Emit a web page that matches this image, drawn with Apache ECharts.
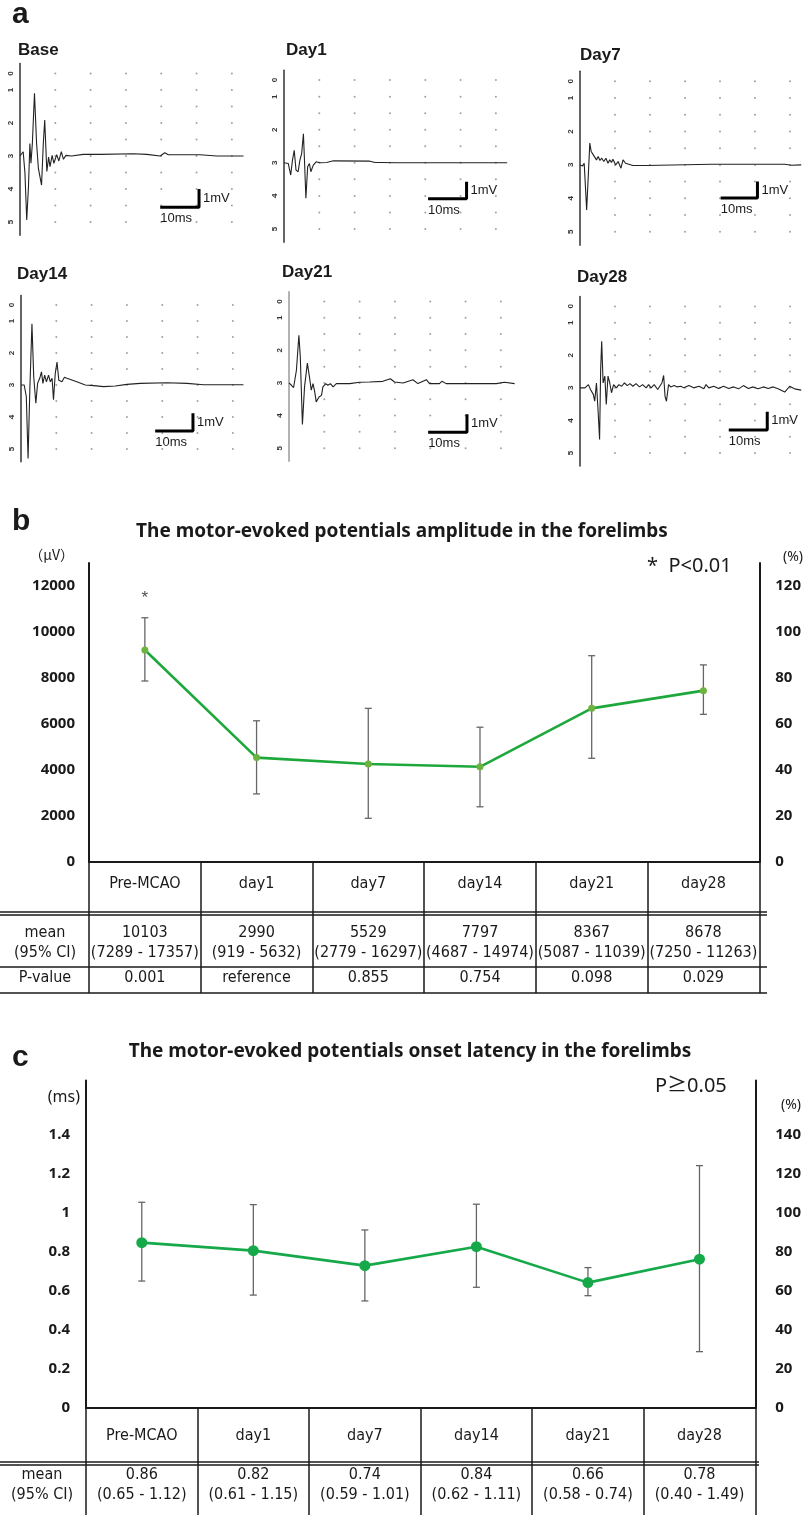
<!DOCTYPE html>
<html>
<head>
<meta charset="utf-8">
<title>Motor-evoked potentials</title>
<script src="https://cdn.jsdelivr.net/npm/echarts@6.0.0/dist/echarts.min.js"></script>
<style>
  html, body { margin: 0; padding: 0; background: #fff; }
  #chart { width: 804px; height: 1515px; }
</style>
</head>
<body>
<div id="chart"></div>
<script>
// ---------- panel a : raw MEP traces (time ms, amplitude in trace-grid units, 3 = baseline)
const baseT = [0, 0.9, 1.4, 1.9, 2.4, 2.8, 3.1, 3.5, 4.1, 4.7, 5.2, 5.7, 6.1, 6.6, 7.0, 7.6, 8.1, 8.5, 9.1, 9.6, 10.4, 11.0, 11.7, 12.3, 13.0, 14.6, 17.9, 22.7, 32.1, 35.9, 39.7, 40.2, 41.0, 42.0, 51.0, 55.7, 63.3];
const baseV = [3.0, 2.87, 3.52, 4.94, 3.93, 2.62, 3.22, 2.62, 1.10, 2.62, 3.37, 3.32, 3.88, 2.62, 1.91, 3.47, 3.03, 3.32, 2.98, 3.22, 2.96, 3.15, 2.87, 3.10, 2.98, 3.0, 2.95, 2.95, 2.93, 2.95, 3.0, 3.05, 2.9, 2.96, 2.96, 3.0, 3.0];

const day1T = [0, 1.2, 1.9, 2.4, 2.9, 3.4, 4.0, 4.5, 5.0, 5.5, 5.8, 6.2, 6.7, 7.2, 7.6, 8.3, 9.1, 10.2, 12.1, 14.0, 24.3, 25.8, 27.2, 32.4, 63.2];
const day1V = [3.0, 3.02, 3.37, 2.92, 2.62, 3.22, 3.27, 2.92, 2.72, 2.12, 2.92, 4.07, 3.12, 3.02, 3.27, 3.07, 2.97, 3.0, 2.99, 2.94, 2.95, 2.99, 2.99, 3.0, 3.0];

const day7T = [0, 0.75, 1.2, 1.9, 2.4, 2.8, 3.2, 3.8, 4.2, 4.7, 5.2, 5.7, 6.2, 6.8, 7.4, 8.0, 8.5, 9.0, 9.4, 10.2, 10.9, 11.7, 12.3, 13.0, 13.4, 15.1, 18.9, 37.7, 38.2, 58.5, 60.4, 63.2];
const day7V = [3.0, 3.03, 2.95, 4.35, 3.25, 2.35, 2.6, 2.7, 2.65, 2.85, 2.75, 2.87, 2.8, 2.9, 2.8, 2.95, 2.85, 2.93, 2.83, 3.0, 2.9, 3.1, 2.85, 2.95, 3.0, 3.02, 3.02, 2.98, 3.01, 2.98, 3.01, 3.0];

const day14T = [0, 0.9, 1.5, 2.0, 2.5, 3.1, 3.6, 4.2, 4.7, 5.3, 5.8, 6.2, 6.7, 7.2, 7.8, 8.3, 8.8, 9.2, 9.7, 10.2, 10.7, 11.1, 11.6, 12.3, 13.0, 15.8, 18.2, 20.6, 23.4, 26.7, 30.0, 33.8, 41.3, 47.0, 51.7, 63.0];
const day14V = [3.0, 3.0, 3.36, 5.3, 3.15, 1.09, 2.74, 3.57, 2.95, 2.79, 2.59, 2.95, 2.69, 2.9, 2.69, 2.9, 2.79, 3.46, 2.64, 2.28, 2.85, 2.79, 2.9, 2.76, 2.79, 2.9, 3.0, 3.02, 3.05, 3.03, 2.98, 2.95, 2.93, 2.95, 2.99, 2.99];

const day21T = [0, 0.7, 1.3, 2.1, 2.8, 3.2, 3.8, 4.4, 5.2, 5.8, 6.3, 6.8, 7.3, 7.7, 8.5, 9.2, 9.6, 10.4, 11.0, 11.7, 12.5, 13.4, 17.2, 20.0, 22.8, 26.6, 28.7, 29.9, 32.3, 35.1, 36.5, 38.9, 39.8, 42.6, 43.3, 44.5, 58.7, 61.0, 63.9];
const day21V = [3.0, 3.07, 3.14, 2.61, 1.54, 2.2, 4.27, 3.12, 2.39, 2.82, 3.22, 3.02, 3.28, 3.58, 3.43, 3.38, 3.12, 3.02, 3.07, 3.02, 3.12, 3.02, 3.02, 2.98, 2.97, 2.95, 2.87, 2.97, 3.0, 2.9, 3.02, 2.9, 3.02, 3.02, 2.95, 3.02, 3.02, 2.98, 3.02];

const day28T = [0, 1.4, 2.4, 3.0, 3.8, 4.2, 4.7, 5.2, 5.6, 5.9, 6.2, 6.6, 7.1, 7.5, 8.0, 8.5, 9.0, 9.6, 10.4, 11.1, 11.9, 12.7, 13.5, 14.3, 15.1, 16.0, 17.0, 17.9, 18.9, 19.6, 20.3, 21.2, 22.2, 22.8, 23.4, 23.9, 24.3, 24.7, 25.3, 25.9, 26.9, 27.8, 28.8, 29.7, 31.1, 32.5, 34.0, 35.4, 36.0, 36.8, 38.2, 39.6, 41.0, 42.5, 43.9, 45.3, 46.7, 48.1, 49.5, 50.9, 52.4, 53.8, 55.2, 56.6, 58.5, 59.9, 61.3, 63.2];
const day28V = [3.0, 3.0, 2.9, 3.05, 3.2, 3.41, 2.85, 3.77, 4.58, 2.44, 1.57, 2.85, 2.64, 3.51, 2.64, 2.85, 3.15, 2.9, 3.0, 2.9, 2.95, 2.85, 2.93, 2.87, 2.95, 2.87, 2.97, 2.9, 3.0, 2.9, 3.0, 2.9, 3.05, 2.95, 2.85, 2.62, 3.26, 3.41, 2.9, 2.97, 2.93, 2.97, 2.95, 3.0, 2.93, 3.0, 2.95, 3.03, 2.9, 3.0, 2.95, 3.02, 2.95, 3.02, 2.97, 3.03, 2.93, 3.02, 2.97, 3.03, 2.97, 3.02, 2.97, 3.03, 3.13, 2.95, 3.03, 3.07];

// dotted background grid of the recorder
const gridDotX = [10, 20, 30, 40, 50, 60];
const gridDotY = [0.5, 1, 1.5, 2, 2.5, 3, 3.5, 4, 4.5, 5];
const traceAxisTicks = [0.5, 1, 2, 3, 4, 5];

// scale bars: [x start, x end, y of horizontal bar, y of vertical bar top]
const barBase = [39.7, 50.7, 4.55, 4.0];
const barDay1 = [40.8, 51.7, 4.09, 3.57];
const barDay7 = [40.2, 50.7, 3.99, 3.5];
const barDay14 = [38.0, 48.7, 4.44, 3.88];
const barDay21 = [39.4, 50.4, 4.51, 3.96];
const barDay28 = [42.5, 53.5, 4.29, 3.73];

// ---------- panel b : amplitude
const days = ['Pre-MCAO', 'day1', 'day7', 'day14', 'day21', 'day28'];
const ampMean = [9220, 4540, 4260, 4140, 6680, 7450];
const ampLow = [7870, 2960, 1900, 2400, 4510, 6420];
const ampHigh = [10620, 6140, 6680, 5860, 8970, 8570];
const ampStarY = 11450;
const ampRowMean = ['10103', '2990', '5529', '7797', '8367', '8678'];
const ampRowCI = ['(7289 - 17357)', '(919 - 5632)', '(2779 - 16297)', '(4687 - 14974)', '(5087 - 11039)', '(7250 - 11263)'];
const ampRowP = ['0.001', 'reference', '0.855', '0.754', '0.098', '0.029'];

// ---------- panel c : onset latency
const latMean = [0.848, 0.807, 0.730, 0.827, 0.643, 0.763];
const latLow = [0.651, 0.579, 0.549, 0.619, 0.576, 0.289];
const latHigh = [1.055, 1.043, 0.913, 1.045, 0.720, 1.243];
const latRowMean = ['0.86', '0.82', '0.74', '0.84', '0.66', '0.78'];
const latRowCI = ['(0.65 - 1.12)', '(0.61 - 1.15)', '(0.59 - 1.01)', '(0.62 - 1.11)', '(0.58 - 0.74)', '(0.40 - 1.49)'];

const SANS = "'Liberation Sans', Arial, sans-serif";
const JP = "'Noto Sans', 'Noto Sans CJK JP', sans-serif";
const CJK = "'Noto Sans CJK JP', 'Noto Sans', sans-serif";
const NARROW = "'Liberation Sans Narrow', 'DejaVu Sans Condensed', 'Liberation Sans', sans-serif";
const INK = '#1a1a1a';

const chart = echarts.init(document.getElementById('chart'), null, { renderer: 'canvas', width: 804, height: 1515 });

const grid = [], xAxis = [], yAxis = [], series = [], graphic = [];

function text(x, y, str, size, weight, family, align) {
    graphic.push({
        type: 'text', x: x, y: y, silent: true,
        style: { text: str, fontSize: size, fontWeight: weight || 'normal', fontFamily: family || SANS, fill: INK, align: align || 'left', verticalAlign: 'middle' }
    });
}
function hline(x1, x2, y, w) {
    graphic.push({ type: 'line', silent: true, shape: { x1: x1, y1: y, x2: x2, y2: y }, style: { stroke: INK, lineWidth: w || 1.5 } });
}

// ---- panel a
const traces = [
    { name: 'Base', t: baseT, v: baseV, bar: barBase, left: 20, top: 63.6, height: 171.6, tx: 18, ty: 50 },
    { name: 'Day1', t: day1T, v: day1V, bar: barDay1, left: 284, top: 70.2, height: 172, tx: 286, ty: 50 },
    { name: 'Day7', t: day7T, v: day7V, bar: barDay7, left: 580, top: 71.2, height: 174, tx: 580, ty: 55 },
    { name: 'Day14', t: day14T, v: day14V, bar: barDay14, left: 21, top: 295.4, height: 166.4, tx: 17, ty: 274 },
    { name: 'Day21', t: day21T, v: day21V, bar: barDay21, left: 289, top: 291.7, height: 169.5, tx: 282, ty: 272, axisColor: '#9a9a9a' },
    { name: 'Day28', t: day28T, v: day28V, bar: barDay28, left: 580, top: 296.6, height: 169.5, tx: 577, ty: 277 }
];

const dots = [];
gridDotX.forEach(function (x) { gridDotY.forEach(function (y) { dots.push([x, y]); }); });

traces.forEach(function (p, i) {
    grid.push({ left: p.left, top: p.top, width: 226, height: p.height });
    xAxis.push({ type: 'value', gridIndex: i, min: 0, max: 64, show: false });
    yAxis.push({
        type: 'value', gridIndex: i, inverse: true, min: 0.2, max: 5.4,
        axisLine: { show: true, lineStyle: { color: p.axisColor || '#333', width: 1.5 } },
        axisTick: { show: false }, splitLine: { show: false },
        axisLabel: {
            customValues: traceAxisTicks, formatter: function (v) { return v < 1 ? '0' : String(v); },
            rotate: 90, fontSize: 8, fontWeight: 'bold', color: '#333', margin: 5, fontFamily: SANS
        }
    });
    series.push({ type: 'scatter', xAxisIndex: i, yAxisIndex: i, data: dots, symbolSize: 2, itemStyle: { color: '#8a8a8a' }, silent: true });
    series.push({
        type: 'line', xAxisIndex: i, yAxisIndex: i, showSymbol: false, silent: true,
        data: p.t.map(function (t, k) { return [t, p.v[k]]; }),
        lineStyle: { color: '#222', width: 1.1 }
    });
    const b = p.bar;
    series.push({
        type: 'line', xAxisIndex: i, yAxisIndex: i, silent: true, symbol: 'circle', symbolSize: 0, showSymbol: true,
        lineStyle: { color: '#000', width: 3 }, label: { show: false },
        data: [
            { value: [b[0], b[2]], label: { show: true, formatter: '10ms', position: 'bottom', align: 'left', distance: 5, fontSize: 13, color: INK, fontFamily: SANS } },
            { value: [b[1], b[2]] },
            { value: [b[1], b[3]], label: { show: true, formatter: '1mV', position: 'right', distance: 4, offset: [0, 9], fontSize: 13, color: INK, fontFamily: SANS } }
        ]
    });
    text(p.tx, p.ty, p.name, 17, 'bold');
});
text(12, 15, 'a', 30, 'bold');

// ---- shared helpers for b and c
function rowAxis(gridIndex, labels, rowName, offset) {
    return {
        type: 'category', gridIndex: gridIndex, data: labels, position: 'bottom', offset: offset,
        axisLine: { show: false, onZero: false }, axisTick: { show: false },
        axisLabel: { interval: 0, margin: 0, verticalAlign: 'middle', fontSize: 16, fontFamily: NARROW, color: INK },
        name: rowName, nameLocation: 'start', nameGap: 44,
        nameTextStyle: { align: 'center', verticalAlign: 'middle', fontSize: 16, fontFamily: NARROW, color: INK }
    };
}
function errorBars(xi, yi, low, high) {
    return {
        type: 'custom', xAxisIndex: xi, yAxisIndex: yi, silent: true, z: 2,
        data: low.map(function (l, k) { return [k, l, high[k]]; }),
        encode: { x: 0, y: [1, 2] },
        renderItem: function (params, api) {
            const lo = api.coord([api.value(0), api.value(1)]);
            const hi = api.coord([api.value(0), api.value(2)]);
            const st = { stroke: '#666', lineWidth: 1.3 };
            return {
                type: 'group', children: [
                    { type: 'line', shape: { x1: lo[0], y1: lo[1], x2: hi[0], y2: hi[1] }, style: st },
                    { type: 'line', shape: { x1: lo[0] - 3.5, y1: lo[1], x2: lo[0] + 3.5, y2: lo[1] }, style: st },
                    { type: 'line', shape: { x1: hi[0] - 3.5, y1: hi[1], x2: hi[0] + 3.5, y2: hi[1] }, style: st }
                ]
            };
        }
    };
}
function valueAxis(gridIndex, pos, max, step, hideAbove, margin) {
    return {
        type: 'value', gridIndex: gridIndex, position: pos, min: 0, max: max, interval: step,
        axisLine: { show: true, lineStyle: { color: INK, width: 2 } },
        axisTick: { show: false }, splitLine: { show: false },
        axisLabel: {
            showMaxLabel: false, margin: margin, fontSize: 15, fontWeight: 'bold', fontFamily: JP, color: INK,
            formatter: function (v) { return v > hideAbove ? '' : String(Math.round(v * 10) / 10); }
        }
    };
}

// ---- panel b
const gB = grid.length;
grid.push({ left: 89, top: 563, width: 678, height: 299 });
const xB = xAxis.length;
xAxis.push({
    type: 'category', gridIndex: gB, data: days, position: 'bottom',
    axisLine: { onZero: false, lineStyle: { color: INK, width: 2 } },
    axisTick: { show: true, length: 131, lineStyle: { color: INK, width: 1.5 } },
    axisLabel: { interval: 0, margin: 22, verticalAlign: 'middle', fontSize: 16, fontFamily: NARROW, color: INK }
});
xAxis.push(rowAxis(gB, ampRowMean, 'mean', 71));
xAxis.push(rowAxis(gB, ampRowCI, '(95% CI)', 91));
xAxis.push(rowAxis(gB, ampRowP, 'P-value', 116));
const yB = yAxis.length;
yAxis.push(valueAxis(gB, 'left', 13000, 2000, 12500, 14));
yAxis.push(valueAxis(gB, 'right', 130, 20, 125, 16));

series.push(errorBars(xB, yB, ampLow, ampHigh));
series.push({
    type: 'line', xAxisIndex: xB, yAxisIndex: yB, data: ampMean, z: 3, silent: true,
    symbol: 'circle', symbolSize: 7, itemStyle: { color: '#6cb33f' },
    lineStyle: { color: '#1ea83c', width: 2.6 }
});
series.push({
    type: 'scatter', xAxisIndex: xB, yAxisIndex: yB, silent: true, symbolSize: 0,
    data: [[days[0], ampStarY]],
    label: { show: true, position: 'inside', formatter: '*', fontSize: 17, color: INK, fontFamily: SANS }
});
hline(0, 767, 912, 1.3); hline(0, 767, 915, 1.3);
hline(0, 767, 967, 1.5);
hline(0, 767, 993, 1.5);
text(12, 522, 'b', 30, 'bold');
text(402, 532, 'The motor-evoked potentials amplitude in the forelimbs', 19, 'bold', JP, 'center');
text(74, 555, '\uff08\u03bcV\uff09', 14, 'normal', CJK, 'right');
text(783, 557, '(%)', 14, 'normal', JP);
text(647, 566, '*  P<0.01', 20, 'normal', JP);

// ---- panel c
const gC = grid.length;
grid.push({ left: 86, top: 1080.4, width: 673, height: 327.6 });
const xC = xAxis.length;
xAxis.push({
    type: 'category', gridIndex: gC, data: days, position: 'bottom',
    axisLine: { onZero: false, lineStyle: { color: INK, width: 2 } },
    axisTick: { show: true, length: 112, lineStyle: { color: INK, width: 1.5 } },
    axisLabel: { interval: 0, margin: 28, verticalAlign: 'middle', fontSize: 16, fontFamily: NARROW, color: INK }
});
xAxis.push(rowAxis(gC, latRowMean, 'mean', 67));
xAxis.push(rowAxis(gC, latRowCI, '(95% CI)', 87));
const yC = yAxis.length;
yAxis.push(valueAxis(gC, 'left', 1.68, 0.2, 1.5, 16));
yAxis.push(valueAxis(gC, 'right', 168, 20, 150, 20));

series.push(errorBars(xC, yC, latLow, latHigh));
series.push({
    type: 'line', xAxisIndex: xC, yAxisIndex: yC, data: latMean, z: 3, silent: true,
    symbol: 'circle', symbolSize: 11, itemStyle: { color: '#16a94a' },
    lineStyle: { color: '#16a94a', width: 2.6 }
});
hline(0, 759, 1462, 1.3); hline(0, 759, 1465, 1.3);
text(12, 1058, 'c', 30, 'bold');
text(410, 1052, 'The motor-evoked potentials onset latency in the forelimbs', 19, 'bold', JP, 'center');
text(80, 1097, '(ms)', 16, 'normal', JP, 'right');
text(781, 1105, '(%)', 14, 'normal', JP);
text(655, 1086, 'P\u22650.05', 20, 'normal', JP);

chart.setOption({
    animation: false,
    backgroundColor: '#fff',
    grid: grid,
    xAxis: xAxis,
    yAxis: yAxis,
    series: series,
    graphic: graphic
});
</script>
</body>
</html>
